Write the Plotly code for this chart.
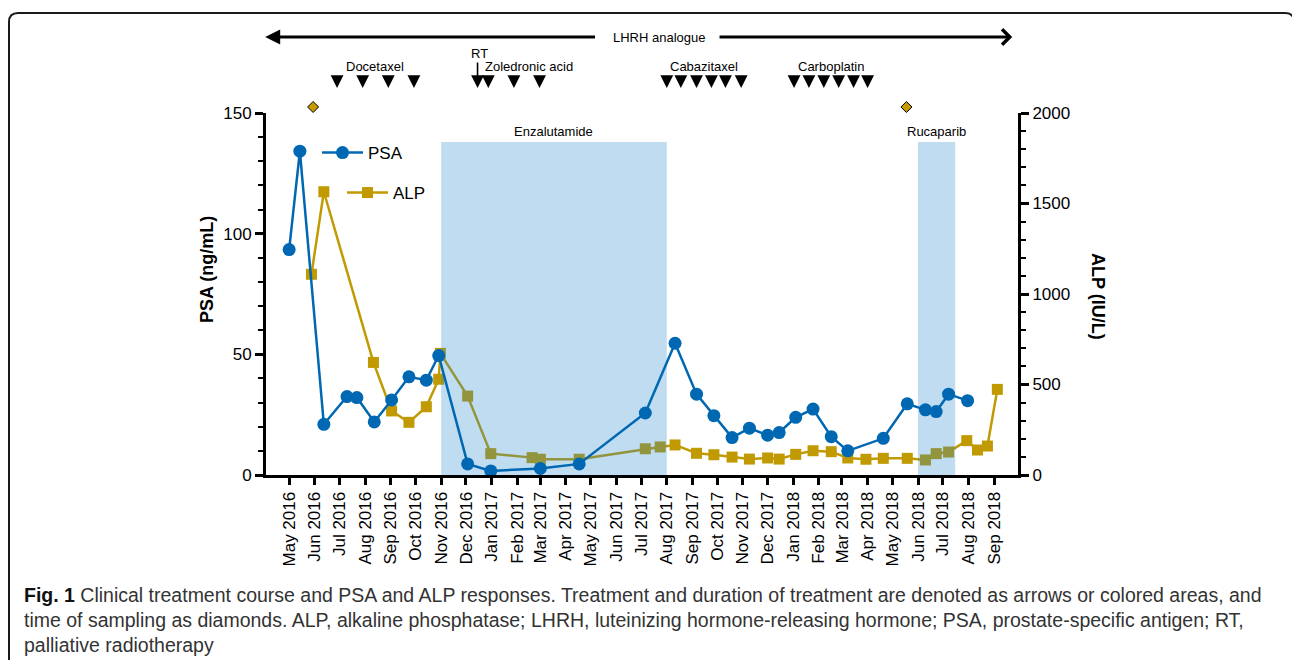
import plotly.graph_objects as go
import pandas as pd

# ---------------- data ----------------
psa_dates = ["2016-05-01", "2016-05-14", "2016-06-12", "2016-07-10", "2016-07-22", "2016-08-12",
             "2016-09-02", "2016-09-23", "2016-10-14", "2016-10-29", "2016-12-03", "2016-12-31",
             "2017-03-01", "2017-04-17", "2017-07-06", "2017-08-11", "2017-09-06", "2017-09-27",
             "2017-10-19", "2017-11-09", "2017-12-01", "2017-12-15", "2018-01-04", "2018-01-25",
             "2018-02-16", "2018-03-08", "2018-04-20", "2018-05-19", "2018-06-10", "2018-06-23",
             "2018-07-08", "2018-07-31"]
psa_values = [93.4, 134.2, 21.0, 32.5, 32.1, 22.0, 31.1, 40.7, 39.3, 49.5, 4.6, 1.7,
              2.7, 4.6, 25.7, 54.6, 33.5, 24.6, 15.5, 19.4, 16.5, 17.6, 23.9, 27.3,
              15.9, 10.0, 15.2, 29.5, 27.0, 26.3, 33.5, 30.8]

alp_dates = ["2016-05-28", "2016-06-12", "2016-08-11", "2016-09-02", "2016-09-23", "2016-10-14",
             "2016-10-29", "2016-10-31", "2016-12-03", "2016-12-31", "2017-02-19", "2017-03-01",
             "2017-04-17", "2017-07-06", "2017-07-24", "2017-08-11", "2017-09-06", "2017-09-27",
             "2017-10-19", "2017-11-09", "2017-12-01", "2017-12-15", "2018-01-04", "2018-01-25",
             "2018-02-16", "2018-03-08", "2018-03-30", "2018-04-20", "2018-05-19", "2018-06-10",
             "2018-06-23", "2018-07-08", "2018-07-30", "2018-08-12", "2018-08-24", "2018-09-05"]
alp_values = [1109, 1565, 622, 354, 291, 377, 529, 672, 436, 118, 96, 87,
              87, 145, 155, 166, 120, 112, 99, 88, 94, 88, 114, 134,
              129, 94, 87, 92, 92, 83, 118, 127, 190, 138, 160, 473]

sampling_dates = ["2016-05-30", "2018-05-18"]

docetaxel_dates = ["2016-06-28", "2016-07-29", "2016-08-29", "2016-09-29"]
rt_dates = ["2016-12-15"]
zoledronic_dates = ["2016-12-28", "2017-01-28", "2017-02-28"]
cabazitaxel_dates = ["2017-08-01", "2017-08-18", "2017-09-06", "2017-09-24", "2017-10-11", "2017-10-30"]
carboplatin_dates = ["2018-01-02", "2018-01-20", "2018-02-07", "2018-02-25", "2018-03-15", "2018-04-01"]

lhrh_period = ["2016-04-02", "2018-09-23"]
enzalutamide_period = ["2016-11-01", "2017-08-01"]
rucaparib_period = ["2018-06-01", "2018-07-16"]
shade_top_psa = 138

month_ticks = ["2016-05-01", "2016-06-01", "2016-07-01", "2016-08-01", "2016-09-01", "2016-10-01",
               "2016-11-01", "2016-12-01", "2017-01-01", "2017-02-01", "2017-03-01", "2017-04-01",
               "2017-05-01", "2017-06-01", "2017-07-01", "2017-08-01", "2017-09-01", "2017-10-01",
               "2017-11-01", "2017-12-01", "2018-01-01", "2018-02-01", "2018-03-01", "2018-04-01",
               "2018-05-01", "2018-06-01", "2018-07-01", "2018-08-01", "2018-09-01"]
month_labels = ["May 2016", "Jun 2016", "Jul 2016", "Aug 2016", "Sep 2016", "Oct 2016",
                "Nov 2016", "Dec 2016", "Jan 2017", "Feb 2017", "Mar 2017", "Apr 2017",
                "May 2017", "Jun 2017", "Jul 2017", "Aug 2017", "Sep 2017", "Oct 2017",
                "Nov 2017", "Dec 2017", "Jan 2018", "Feb 2018", "Mar 2018", "Apr 2018",
                "May 2018", "Jun 2018", "Jul 2018", "Aug 2018", "Sep 2018"]

PSA_MAX = 150
ALP_MAX = 2000

# ---------------- style ----------------
BLUE = "#0068b2"
GOLD = "#c09a00"
SHADE = "rgba(42,138,205,0.30)"
FONT = "Liberation Sans, Arial, sans-serif"

# layout geometry helpers (pixel -> paper)
L, T, R, B = 266, 113, 274, 185
W, H = 1292, 660
PW, PH = W - L - R, H - T - B


def px(x):
    return (x - L) / PW


def py(y):
    return (H - B - y) / PH


fig = go.Figure()

# ALP (drawn first, under the shading) on the main (right-side) axis
fig.add_trace(go.Scatter(
    x=alp_dates, y=alp_values, name="ALP", mode="lines+markers",
    line=dict(color=GOLD, width=2.5),
    marker=dict(symbol="square", size=11, color=GOLD),
    yaxis="y", legend="legend2"))

# shading for Enzalutamide and Rucaparib (on ALP scale)
shade_top_alp = shade_top_psa * ALP_MAX / PSA_MAX
for per in (enzalutamide_period, rucaparib_period):
    fig.add_trace(go.Scatter(
        x=[per[0], per[0], per[1], per[1], per[0]],
        y=[0, shade_top_alp, shade_top_alp, 0, 0],
        fill="toself", fillcolor=SHADE, mode="none",
        hoverinfo="skip", showlegend=False, yaxis="y"))

# PSA on the overlaying left axis (drawn above the shading)
fig.add_trace(go.Scatter(
    x=psa_dates, y=psa_values, name="PSA", mode="lines+markers",
    line=dict(color=BLUE, width=2.5),
    marker=dict(symbol="circle", size=13, color=BLUE),
    yaxis="y2", legend="legend"))

tick_font = dict(family=FONT, size=17, color="black")

fig.update_layout(
    width=W, height=H,
    margin=dict(l=L, r=R, t=T, b=B),
    paper_bgcolor="white", plot_bgcolor="white",
    xaxis=dict(type="date", range=["2016-04-03", "2018-09-30"],
               tickvals=month_ticks, ticktext=month_labels, tickangle=-90,
               ticks="outside", ticklen=7, tickwidth=2.5, tickcolor="black",
               showline=True, linewidth=3, linecolor="black", showgrid=False, zeroline=False,
               tickfont=tick_font),
    yaxis=dict(range=[0, ALP_MAX], side="right", tickvals=[0, 500, 1000, 1500, 2000],
               ticks="outside", ticklen=8, tickwidth=2.5, tickcolor="black",
               minor=dict(dtick=100, ticks="outside", ticklen=5, tickwidth=2, tickcolor="black"),
               showline=True, linewidth=3, linecolor="black", showgrid=False, zeroline=False,
               tickfont=tick_font),
    yaxis2=dict(range=[0, PSA_MAX], side="left", overlaying="y", tickvals=[0, 50, 100, 150],
                ticks="outside", ticklen=8, tickwidth=2.5, tickcolor="black",
                minor=dict(dtick=10, ticks="outside", ticklen=5, tickwidth=2, tickcolor="black"),
                showline=True, linewidth=3, linecolor="black", showgrid=False, zeroline=False,
                tickfont=tick_font),
    legend=dict(x=px(317), y=py(153), xanchor="left", yanchor="middle",
                font=dict(family=FONT, size=17, color="black"), bgcolor="rgba(0,0,0,0)",
                itemwidth=41),
    legend2=dict(x=px(342), y=py(193), xanchor="left", yanchor="middle",
                 font=dict(family=FONT, size=17, color="black"), bgcolor="rgba(0,0,0,0)",
                 itemwidth=41),
    showlegend=True,
)

ann = []


def text_ann(text, x, y, xref="paper", font=None, **kw):
    d = dict(text=text, x=x, y=y, xref=xref, yref="paper", showarrow=False,
             xanchor="center", yanchor="middle", font=font)
    d.update(kw)
    return d


# axis titles
ann.append(text_ann("<b>PSA (ng/mL)</b>", px(207), py(270), textangle=-90,
                    font=dict(family=FONT, size=18, color="black")))
ann.append(text_ann("<b>ALP (IU/L)</b>", px(1098), py(296), textangle=90,
                    font=dict(family=FONT, size=18, color="black")))

# treatment period labels
lab_font = dict(family=FONT, size=13, color="black")
for per, name in ((enzalutamide_period, "Enzalutamide"), (rucaparib_period, "Rucaparib")):
    mid = pd.Timestamp(per[0]) + (pd.Timestamp(per[1]) - pd.Timestamp(per[0])) / 2
    ann.append(text_ann(name, mid, py(131), xref="x", font=lab_font))

# small down arrows
TIP = py(88)


def down_arrow(d, length=13):
    return dict(x=d, y=TIP, xref="x", yref="paper", text="", showarrow=True,
                ax=0, ay=-length, arrowhead=2, arrowsize=1.6, arrowwidth=1.6,
                arrowcolor="black", standoff=0)


for group in (docetaxel_dates, zoledronic_dates, cabazitaxel_dates, carboplatin_dates):
    for d in group:
        ann.append(down_arrow(d))
for d in rt_dates:
    ann.append(down_arrow(d, length=27))


def mean_date(ds):
    ts = [pd.Timestamp(d) for d in ds]
    return ts[0] + sum([t - ts[0] for t in ts], pd.Timedelta(0)) / len(ts)


ann.append(text_ann("Docetaxel", mean_date(docetaxel_dates), py(66), xref="x", font=lab_font))
ann.append(text_ann("RT", rt_dates[0], py(54), xref="x", font=lab_font, xshift=2))
ann.append(text_ann("Zoledronic acid", zoledronic_dates[0], py(66), xref="x", font=lab_font,
                    xanchor="left", xshift=-5))
ann.append(text_ann("Cabazitaxel", mean_date(cabazitaxel_dates), py(66), xref="x", font=lab_font))
ann.append(text_ann("Carboplatin", mean_date(carboplatin_dates), py(66), xref="x", font=lab_font))

# LHRH analogue arrow
LY = py(37)
ann.append(dict(text="", x=lhrh_period[0], y=LY, xref="x", yref="paper", showarrow=True,
                axref="x", ax="2017-05-08", ayref="pixel", ay=0,
                arrowhead=2, arrowsize=1.0, arrowwidth=3, arrowcolor="black", standoff=0))
ann.append(dict(text="", x=lhrh_period[1], y=LY, xref="x", yref="paper", showarrow=True,
                axref="x", ax="2017-10-02", ayref="pixel", ay=0,
                arrowhead=4, arrowsize=1.0, arrowwidth=3, arrowcolor="black", standoff=0))
ann.append(text_ann("LHRH analogue", px(659), LY, font=lab_font))

# caption
cap_font = dict(family=FONT, size=19.5, color="#333333")
cap_lines = [
    "<b style='color:#111'>Fig. 1</b> Clinical treatment course and PSA and ALP responses. Treatment and duration of treatment are denoted as arrows or colored areas, and",
    "time of sampling as diamonds. ALP, alkaline phosphatase; LHRH, luteinizing hormone-releasing hormone; PSA, prostate-specific antigen; RT,",
    "palliative radiotherapy",
]
for i, line in enumerate(cap_lines):
    ann.append(text_ann(line, px(22), py(595 + 25 * i), font=cap_font, xanchor="left"))

fig.update_layout(annotations=ann)

# sampling diamonds (pixel-sized shapes anchored at the sampling dates)
DY = py(107)
for d in sampling_dates:
    fig.add_shape(type="path", xref="x", yref="paper", xsizemode="pixel", ysizemode="pixel",
                  xanchor=d, yanchor=DY, path="M 0,5.5 L 5.5,0 L 0,-5.5 L -5.5,0 Z",
                  fillcolor="#c89b00", line=dict(color="black", width=1), layer="above")

# frame (rounded top corners)
r = 9
x0, y0, x1, ybot, yr = 9, 13, 1294, 660, 30
path = (f"M {px(x0)},{py(ybot)} L {px(x0)},{py(y0 + r)} "
        f"Q {px(x0)},{py(y0)} {px(x0 + r)},{py(y0)} "
        f"L {px(x1 - r)},{py(y0)} Q {px(x1)},{py(y0)} {px(x1)},{py(y0 + r)} "
        f"L {px(x1)},{py(yr)}")
fig.add_shape(type="path", path=path, xref="paper", yref="paper",
              line=dict(color="#1a1a1a", width=2))

fig.write_html("out.html", config={"displayModeBar": False},
               post_script="document.body.style.margin='0px';")
